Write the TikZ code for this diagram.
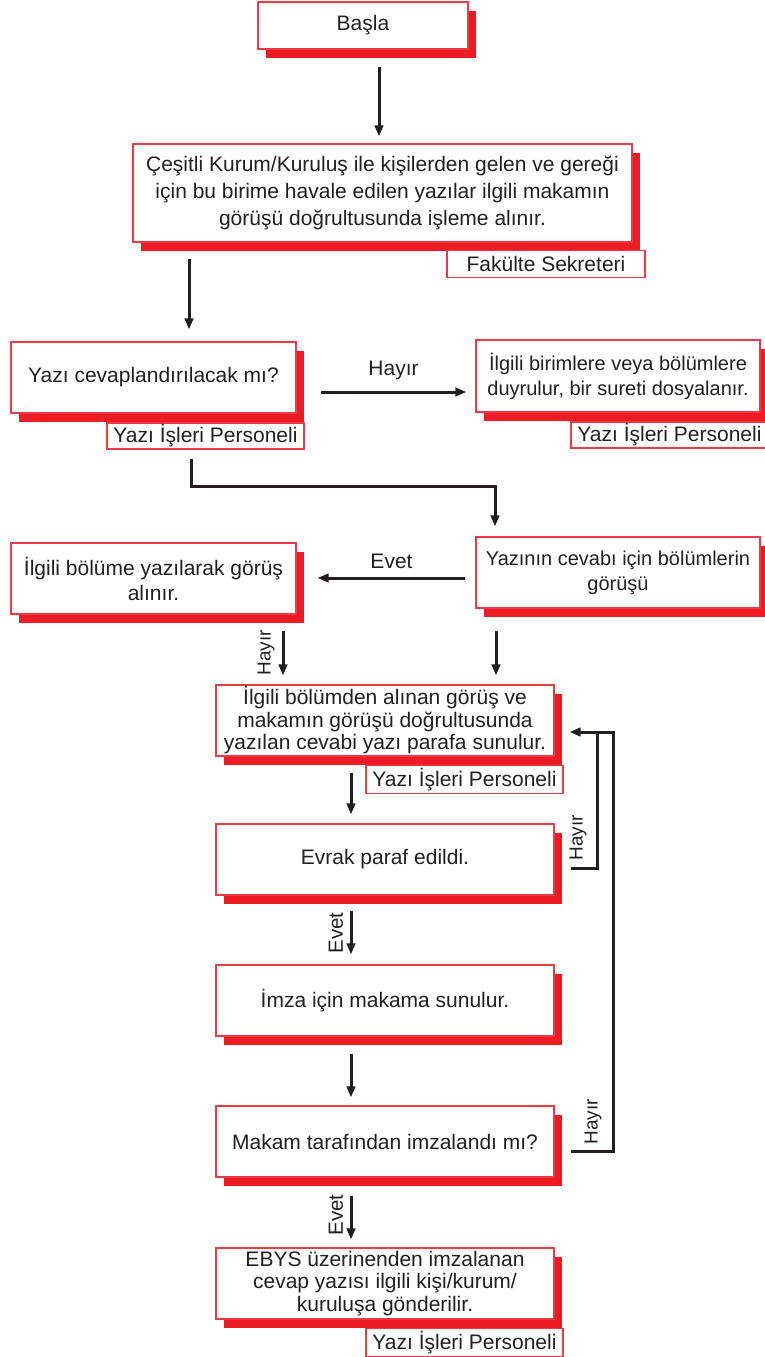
\documentclass[tikz,border=0pt]{standalone}
\usepackage{fontspec}
\setmainfont{Liberation Sans}
\usetikzlibrary{shadows,arrows.meta,calc}
\definecolor{txt}{HTML}{231F20}
\definecolor{shred}{HTML}{ED1C24}
\definecolor{bred}{HTML}{EE3A44}
\tikzset{
  box/.style={draw=bred, line width=1.2pt, fill=white, text=txt, align=center, inner sep=0pt,
    general shadow={fill=shred, shadow xshift=8pt, shadow yshift=-9pt},
    font=\fontsize{21}{27}\selectfont},
  tag/.style={draw=bred, line width=1.2pt, fill=white, text=txt, inner sep=0pt,
    font=\fontsize{21}{25}\selectfont},
  arr/.style={draw=txt, line width=3pt, -{Triangle[length=11pt,width=8.5pt]}},
  conn/.style={draw=txt, line width=3pt},
  lab/.style={text=txt, font=\fontsize{21}{25}\selectfont, inner sep=0pt},
  vlab/.style={text=txt, font=\fontsize{19}{23}\selectfont, inner sep=0pt, rotate=90},
}
\begin{document}
\begin{tikzpicture}[x=1pt,y=-1pt]
\useasboundingbox (0,0) rectangle (765,1357);
% boxes
\node[box, minimum width=210pt, minimum height=47pt] (start) at (363,25.5) {Başla};
\node[box, minimum width=499pt, minimum height=98pt] (b2) at (382.5,193)
  {Çeşitli Kurum/Kuruluş ile kişilerden gelen ve gereği\\için bu birime havale edilen yazılar ilgili makamın\\görüşü doğrultusunda işleme alınır.};
\node[tag, minimum width=198pt, minimum height=27pt] (b2t) at (546,264) {Fakülte Sekreteri};
\node[box, minimum width=285pt, minimum height=71pt] (b3) at (153.5,377.5) {Yazı cevaplandırılacak mı?};
\node[tag, minimum width=197pt, minimum height=26pt] (b3t) at (205.5,436) {Yazı İşleri Personeli};
\node[box, minimum width=284pt, minimum height=72pt, font=\fontsize{20}{25}\selectfont] (b4) at (618,376)
  {İlgili birimlere veya bölümlere\\duyrulur, bir sureti dosyalanır.};
\node[tag, minimum width=197pt, minimum height=26pt] (b4t) at (669.5,435) {Yazı İşleri Personeli};
\node[box, minimum width=284pt, minimum height=71pt, font=\fontsize{20}{25}\selectfont] (b5) at (618,572.5)
  {Yazının cevabı için bölümlerin\\görüşü};
\node[box, minimum width=285pt, minimum height=71pt, font=\fontsize{21}{25}\selectfont] (b6) at (153.5,578.5)
  {İlgili bölüme yazılarak görüş\\alınır.};
\node[box, minimum width=338pt, minimum height=71pt, font=\fontsize{21}{22.5}\selectfont] (b7) at (385,720.5)
  {İlgili bölümden alınan görüş ve\\makamın görüşü doğrultusunda\\yazılan cevabi yazı parafa sunulur.};
\node[tag, minimum width=197pt, minimum height=28pt] (b7t) at (464.5,779.5) {Yazı İşleri Personeli};
\node[box, minimum width=338pt, minimum height=71pt] (b8) at (385,859.5) {Evrak paraf edildi.};
\node[box, minimum width=338pt, minimum height=71pt] (b9) at (385,1000.5) {İmza için makama sunulur.};
\node[box, minimum width=338pt, minimum height=71pt] (b10) at (385,1141.5) {Makam tarafından imzalandı mı?};
\node[box, minimum width=338pt, minimum height=71pt, font=\fontsize{21}{22.5}\selectfont] (b11) at (385,1283.5)
  {EBYS üzerinenden imzalanan\\cevap yazısı ilgili kişi/kurum/\\kuruluşa gönderilir.};
\node[tag, minimum width=197pt, minimum height=28pt] (b11t) at (464.5,1342.5) {Yazı İşleri Personeli};
% connectors
\draw[arr] ($(start.south)+(16,17)$) -- ($(b2.north)+(-3.5,-7)$);
\draw[arr] ($(b2.south)+(-193.5,16)$) -- ($(b3.north)+(35.5,-12)$);
\draw[arr] ($(b3.east)+(24,14.5)$) -- node[lab, above=11pt] {Hayır} ($(b4.west)+(-9,16)$);
\draw[arr] ($(b3t.south)+(-14.5,9)$) -- ++(0,28) -| ($(b5.north)+(-123,-10)$);
\draw[arr] ($(b5.west)+(-10,5.5)$) -- node[lab, above=8pt] {Evet} ($(b6.east)+(21,-0.5)$);
\draw[arr] ($(b6.south)+(129.5,16)$) -- ($(b7.north)+(-102,-9)$);
\node[vlab] (h1) at (266,653) {Hayır};
\draw[arr] ($(b5.south)+(-122,22)$) -- ($(b7.north)+(111,-9)$);
\draw[arr] ($(b7.south)+(-34,16)$) -- ($(b8.north)+(-34,-9)$);
\draw[arr] ($(b8.south)+(-34,15)$) -- ($(b9.north)+(-34,-10)$);
\node[vlab, font=\fontsize{20.5}{24}\selectfont] (e1) at (336,933) {Evet};
\draw[arr] ($(b9.south)+(-34,17)$) -- ($(b10.north)+(-34,-8)$);
\draw[arr] ($(b10.south)+(-34,18)$) -- ($(b11.north)+(-34,-8)$);
\node[vlab, font=\fontsize{20.5}{24}\selectfont] (e2) at (336,1215) {Evet};
% loops back
\coordinate (j) at (597,732);
\draw[arr] ($(b8.east)+(16,8.5)$) -| (j) -- ($(b7.east)+(15,11.5)$);
\draw[conn] ($(b10.east)+(16,9.5)$) -| (613,732) -- (j);
\node[vlab] (h2) at (578,838) {Hayır};
\node[vlab] (h3) at (593,1122) {Hayır};
\end{tikzpicture}
\end{document}
